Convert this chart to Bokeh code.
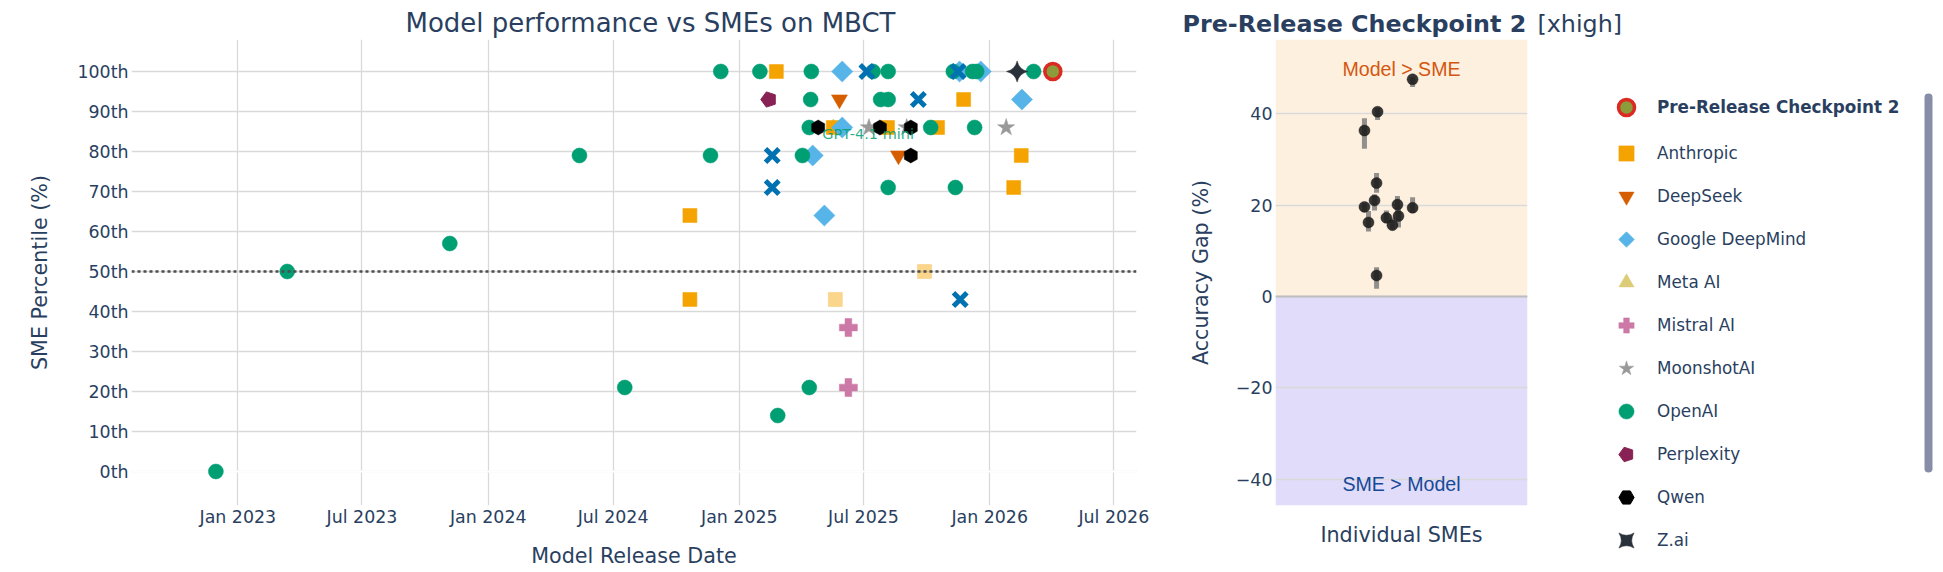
import numpy as np
import pandas as pd
from bokeh.plotting import figure
from bokeh.models import (ColumnDataSource, Range1d, FixedTicker, DatetimeTickFormatter,
                          Span, Label, BoxAnnotation, Legend, LegendItem)
from bokeh.layouts import row
from bokeh.embed import file_html
from bokeh.resources import INLINE
from bokeh.core.properties import value

# ---------------- data: left chart (release date, SME percentile) ----------------
anthropic_dates = ["2024-10-21", "2024-10-21", "2025-02-24", "2025-05-18", "2025-08-05",
                   "2025-10-17", "2025-11-24", "2026-02-05", "2026-02-16"]
anthropic_pct = [64, 43, 100, 86, 86, 86, 93, 71, 79]
anthropic_faded_dates = ["2025-05-21", "2025-09-28"]
anthropic_faded_pct = [43, 50]
deepseek_dates = ["2025-05-27", "2025-08-21"]
deepseek_pct = [93, 79]
gdm_dates = ["2025-04-18", "2025-05-05", "2025-05-31", "2025-05-31", "2025-11-18",
             "2025-12-19", "2026-02-17"]
gdm_pct = [79, 64, 100, 86, 100, 100, 93]
meta_dates = ["2025-05-18"]
meta_pct = [86]
mistral_dates = ["2025-06-09", "2025-06-09"]
mistral_pct = [36, 21]
moonshot_dates = ["2025-07-09", "2025-09-02", "2026-01-25"]
moonshot_pct = [86, 86, 86]
openai_dates = ["2022-11-30", "2023-03-14", "2023-11-06", "2024-05-13", "2024-07-18",
                "2024-11-20", "2024-12-05", "2025-01-31", "2025-02-26", "2025-04-03",
                "2025-04-16", "2025-04-15", "2025-04-13", "2025-04-13", "2025-07-15",
                "2025-07-26", "2025-08-06", "2025-08-06", "2025-08-06", "2025-10-07",
                "2025-11-09", "2025-11-12", "2025-12-07", "2025-12-13", "2025-12-10",
                "2026-03-06"]
openai_pct = [0, 50, 57, 79, 21,
              79, 100, 100, 14, 79,
              100, 93, 86, 21, 100,
              93, 93, 100, 71, 86,
              100, 71, 100, 100, 86,
              100]
perplexity_dates = ["2025-02-13"]
perplexity_pct = [93]
qwen_dates = ["2025-04-26", "2025-07-25", "2025-09-08", "2025-09-08"]
qwen_pct = [86, 86, 86, 79]
zai_dates = ["2026-02-10"]
zai_pct = [100]
xai_dates = ["2025-02-18", "2025-02-18", "2025-07-06", "2025-09-19", "2025-11-16", "2025-11-19"]
xai_pct = [79, 71, 100, 93, 100, 43]
prerelease_dates = ["2026-04-03"]
prerelease_pct = [100]

annot_names = ["GPT-4.1 mini"]
annot_dates = ["2025-04-13"]
annot_pct = [86]

y_ticks = [0, 10, 20, 30, 40, 50, 60, 70, 80, 90, 100]
x_tick_dates = ["2023-01-01", "2023-07-01", "2024-01-01", "2024-07-01",
                "2025-01-01", "2025-07-01", "2026-01-01", "2026-07-01"]

# ---------------- data: right chart (individual SMEs) ----------------
sme_jitter = [0.044, -0.095, -0.147, -0.099, -0.107, -0.147, -0.131, -0.016, 0.044,
              -0.060, -0.012, -0.036, -0.099]
sme_gap = [47.5, 40.4, 36.3, 24.8, 21.0, 19.6, 16.2, 20.1, 19.4, 17.2, 17.6, 15.6, 4.6]
sme_gap_lo = [45.8, 38.6, 32.3, 22.7, 18.8, 18.5, 14.2, 18.3, 18.3, 16.2, 15.1, 14.7, 1.7]
sme_gap_hi = [48.0, 41.2, 39.0, 27.0, 22.3, 20.5, 18.7, 22.0, 21.7, 18.8, 19.4, 17.2, 6.4]
gap_ticks = [-40, -20, 0, 20, 40]

legend_orgs = ["Anthropic", "DeepSeek", "Google DeepMind", "Meta AI", "Mistral AI",
               "MoonshotAI", "OpenAI", "Perplexity", "Qwen", "Z.ai"]

# ---------------- styles ----------------
FONT = "DejaVu Sans"
TXT = "#2a3f5f"
GRID = "#d9d9d9"
H = 570

STYLES = {
    "Anthropic": dict(marker="square", size=14, color="#F5A300"),
    "DeepSeek": dict(marker="inverted_triangle", size=16, color="#D55E00"),
    "Google DeepMind": dict(marker="square", angle=np.pi / 4, size=15, color="#56B4E9"),
    "Meta AI": dict(marker="triangle", size=15, color="#DDCC77"),
    "Mistral AI": dict(marker="plus", size=18, color="#CC79A7"),
    "MoonshotAI": dict(marker="star", size=18, color="#999999"),
    "OpenAI": dict(marker="circle", size=15, color="#009E73"),
    "Perplexity": dict(kind="ngon", n=5, radius=8, angle=np.pi / 2, color="#882255"),
    "Qwen": dict(marker="hex", angle=np.pi / 6, size=15, color="#000000"),
    "Z.ai": dict(marker="square_pin", angle=np.pi / 4, size=15, color="#2B313A"),
    "xAI": dict(marker="x", size=19, color="#0072B2", line_width=5),
}
# legend glyphs ignore marker rotation, so rotated markers get an equivalent legend shape
LEGEND_STYLES = dict(STYLES)
LEGEND_STYLES["Google DeepMind"] = dict(kind="ngon", n=4, radius=9, angle=0.0, color="#56B4E9")
LEGEND_STYLES["Qwen"] = dict(kind="ngon", n=6, radius=8, angle=np.pi / 2, color="#000000")
PRE_STYLE = dict(marker="circle", size=16, fill_color="#8C9C3A", line_color="#DC2A23", line_width=3.5)


def draw(p, source, st, alpha=1.0):
    st = dict(st)
    kind = st.pop("kind", "scatter")
    color = st.pop("color")
    if kind == "ngon":
        try:
            return p.ngon(x="x", y="y", source=source, radius=st["radius"], radius_units="screen",
                          n=st["n"], angle=st["angle"], fill_color=color, line_color=color,
                          fill_alpha=alpha, line_alpha=alpha)
        except Exception:
            return p.scatter(x="x", y="y", source=source, marker="hex", size=14,
                             fill_color=color, line_color=color, fill_alpha=alpha, line_alpha=alpha)
    lw = st.pop("line_width", 0.5)
    return p.scatter(x="x", y="y", source=source, fill_color=color, line_color=color,
                     line_width=lw, fill_alpha=alpha, line_alpha=alpha, **st)


def src(dates, vals):
    return ColumnDataSource(dict(x=pd.to_datetime(dates), y=vals))


def style_axis(ax):
    ax.axis_line_color = None
    ax.major_tick_line_color = None
    ax.minor_tick_line_color = None
    ax.major_tick_out = 0
    ax.major_tick_in = 0
    ax.major_label_text_font = FONT
    ax.major_label_text_font_size = "17.4px"
    ax.major_label_text_color = TXT
    ax.axis_label_text_font = FONT
    ax.axis_label_text_font_size = "20.7px"
    ax.axis_label_text_font_style = "normal"
    ax.axis_label_text_color = TXT


def no_align(p):
    try:
        p.frame_align = False
    except Exception:
        pass


# ---------------- left figure ----------------
p1 = figure(width=1160, height=H, x_axis_type="datetime", output_backend="svg",
            toolbar_location=None,
            x_range=Range1d(pd.Timestamp("2022-07-30"), pd.Timestamp("2026-08-03")),
            y_range=Range1d(-8.5, 108),
            min_border_left=131, min_border_right=24, min_border_top=39, min_border_bottom=H - 505)
no_align(p1)
p1.outline_line_color = None
p1.title.text = "Model performance vs SMEs on MBCT"
p1.title.align = "left"
p1.title.offset = 274
p1.title.standoff = 3
p1.title.text_font = FONT
p1.title.text_font_size = "26px"
p1.title.text_font_style = "normal"
p1.title.text_color = TXT

p1.xgrid.grid_line_color = GRID
p1.ygrid.grid_line_color = GRID
p1.xgrid.grid_line_width = 1.3
p1.ygrid.grid_line_width = 1.3
p1.add_layout(Span(location=0, dimension="width", line_color="white", line_width=2, level="underlay"))

p1.yaxis.ticker = FixedTicker(ticks=y_ticks)
p1.yaxis.major_label_overrides = {v: f"{v}th" for v in y_ticks}
p1.xaxis.ticker = FixedTicker(ticks=[pd.Timestamp(d).value / 1e6 for d in x_tick_dates])
fmt = "%b %Y"
p1.xaxis.formatter = DatetimeTickFormatter(milliseconds=fmt, seconds=fmt, minsec=fmt, minutes=fmt,
                                           hourmin=fmt, hours=fmt, days=fmt, months=fmt,
                                           years=fmt)
style_axis(p1.xaxis[0])
style_axis(p1.yaxis[0])
p1.xaxis.axis_label = "Model Release Date"
p1.yaxis.axis_label = "SME Percentile (%)"
p1.yaxis.major_label_standoff = 3
p1.yaxis.axis_label_standoff = 22
p1.xaxis.major_label_standoff = 1
p1.xaxis.axis_label_standoff = 14

series = [
    ("Meta AI", meta_dates, meta_pct, 1.0),
    ("Anthropic", anthropic_dates, anthropic_pct, 1.0),
    ("Anthropic", anthropic_faded_dates, anthropic_faded_pct, 0.45),
    ("DeepSeek", deepseek_dates, deepseek_pct, 1.0),
    ("Google DeepMind", gdm_dates, gdm_pct, 1.0),
    ("Mistral AI", mistral_dates, mistral_pct, 1.0),
    ("MoonshotAI", moonshot_dates, moonshot_pct, 1.0),
    ("OpenAI", openai_dates, openai_pct, 1.0),
    ("Perplexity", perplexity_dates, perplexity_pct, 1.0),
    ("Qwen", qwen_dates, qwen_pct, 1.0),
    ("Z.ai", zai_dates, zai_pct, 1.0),
    ("xAI", xai_dates, xai_pct, 1.0),
]
for org, d, v, a in series:
    draw(p1, src(d, v), STYLES[org], alpha=a)

p1.scatter(x="x", y="y", source=src(prerelease_dates, prerelease_pct), **PRE_STYLE)

p1.text(x="x", y="y", text="name",
        source=ColumnDataSource(dict(x=pd.to_datetime(annot_dates), y=annot_pct, name=annot_names)),
        x_offset=13, y_offset=6, text_align="left", text_baseline="middle",
        text_font=value(FONT), text_font_size="14.5px", text_color="#009E73", text_alpha=0.85)

p1.add_layout(Span(location=50, dimension="width", line_color="#4d4d4d", line_dash="3 3",
                   line_width=2.5))

# ---------------- right figure ----------------
p2 = figure(width=375, height=H, output_backend="svg", toolbar_location=None,
            x_range=Range1d(-0.5, 0.5), y_range=Range1d(-45.7, 56.2),
            min_border_left=115, min_border_right=8, min_border_top=39, min_border_bottom=H - 505)
no_align(p2)
p2.outline_line_color = None
p2.title.text = "Pre-Release Checkpoint 2"
p2.title.align = "left"
p2.title.offset = -93
p2.title.standoff = 3
p2.title.text_font = FONT
p2.title.text_font_size = "23.8px"
p2.title.text_font_style = "bold"
p2.title.text_color = TXT

p2.add_layout(BoxAnnotation(bottom=0, fill_color="#FEF0DF", fill_alpha=1, line_color=None,
                            level="image"))
p2.add_layout(BoxAnnotation(top=0, fill_color="#E0DCFA", fill_alpha=1, line_color=None,
                            level="image"))
p2.xgrid.grid_line_color = None
p2.ygrid.grid_line_color = GRID
p2.ygrid.grid_line_width = 1.3
p2.add_layout(Span(location=0, dimension="width", line_color="#bdbdbd", line_width=2,
                   level="underlay"))

p2.yaxis.ticker = FixedTicker(ticks=gap_ticks)
p2.yaxis.major_label_overrides = {v: (f"\u2212{abs(v)}" if v < 0 else str(v)) for v in gap_ticks}
p2.xaxis.ticker = FixedTicker(ticks=[])
style_axis(p2.xaxis[0])
style_axis(p2.yaxis[0])
p2.yaxis.axis_label = "Accuracy Gap (%)"
p2.xaxis.axis_label = "Individual SMEs"
p2.yaxis.major_label_standoff = 3
p2.yaxis.axis_label_standoff = 20
p2.xaxis.major_label_standoff = 0
p2.xaxis.axis_label_standoff = 17

sme_src = ColumnDataSource(dict(x=sme_jitter, y=sme_gap, lo=sme_gap_lo, hi=sme_gap_hi))
p2.segment(x0="x", y0="lo", x1="x", y1="hi", source=sme_src, line_color="#7f7f7f",
           line_alpha=0.85, line_width=5)
p2.scatter(x="x", y="y", source=sme_src, marker="circle", size=11, fill_color="#1a1a1a",
           fill_alpha=0.88, line_color="#1a1a1a", line_alpha=0.88, line_width=0.5)

p2.add_layout(Label(x=0, y=49.8, text="Model > SME", text_align="center", text_baseline="middle",
                    text_font="Liberation Sans", text_font_size="19.6px", text_color="#D4570F"))
p2.add_layout(Label(x=0, y=-40.9, text="SME > Model", text_align="center", text_baseline="middle",
                    text_font="Liberation Sans", text_font_size="19.6px", text_color="#174A96"))

# ---------------- legend figure ----------------
LW = 400
p3 = figure(width=LW, height=H, output_backend="svg", toolbar_location=None,
            x_range=Range1d(0, LW), y_range=Range1d(0, H),
            x_axis_location=None, y_axis_location=None,
            min_border_left=0, min_border_right=0, min_border_top=0, min_border_bottom=0)
no_align(p3)
p3.outline_line_color = None
p3.xgrid.grid_line_color = None
p3.ygrid.grid_line_color = None

p3.add_layout(Label(x=2, y=H - 23, text="[xhigh]", text_align="left", text_baseline="middle",
                    text_font=FONT, text_font_size="23.8px", text_color=TXT))


# legend glyph carriers: one point each, placed outside the visible range
def carrier():
    return ColumnDataSource(dict(x=[-500], y=[-500]))


items = []
for org in legend_orgs:
    r = draw(p3, carrier(), LEGEND_STYLES[org])
    items.append(LegendItem(label=org, renderers=[r]))
r_pre = p3.scatter(x="x", y="y", source=carrier(), **PRE_STYLE)

common = dict(border_line_color=None, background_fill_alpha=0, padding=0, margin=0,
              label_width=10, label_text_font=FONT,
              label_text_font_size="16.8px", label_text_color=TXT)
leg_pre = Legend(items=[LegendItem(label="Pre-Release Checkpoint 2", renderers=[r_pre])],
                 location=(71, H - 127), glyph_width=40, glyph_height=40, label_height=40,
                 label_standoff=11, spacing=0, label_text_font_style="bold", **common)
leg_main = Legend(items=items, location=(72, H - 559), glyph_width=38, glyph_height=38,
                  label_height=38, label_standoff=12, spacing=5, **common)
p3.add_layout(leg_pre)
p3.add_layout(leg_main)

# legend scrollbar
p3.add_layout(BoxAnnotation(left=389, right=397, top=H - 93, bottom=H - 472,
                            fill_color="#878DA8", fill_alpha=1, line_color=None,
                            border_radius=4, level="overlay"))

layout = row(p1, p2, p3)
open("out.html", "w").write(file_html(layout, INLINE))
